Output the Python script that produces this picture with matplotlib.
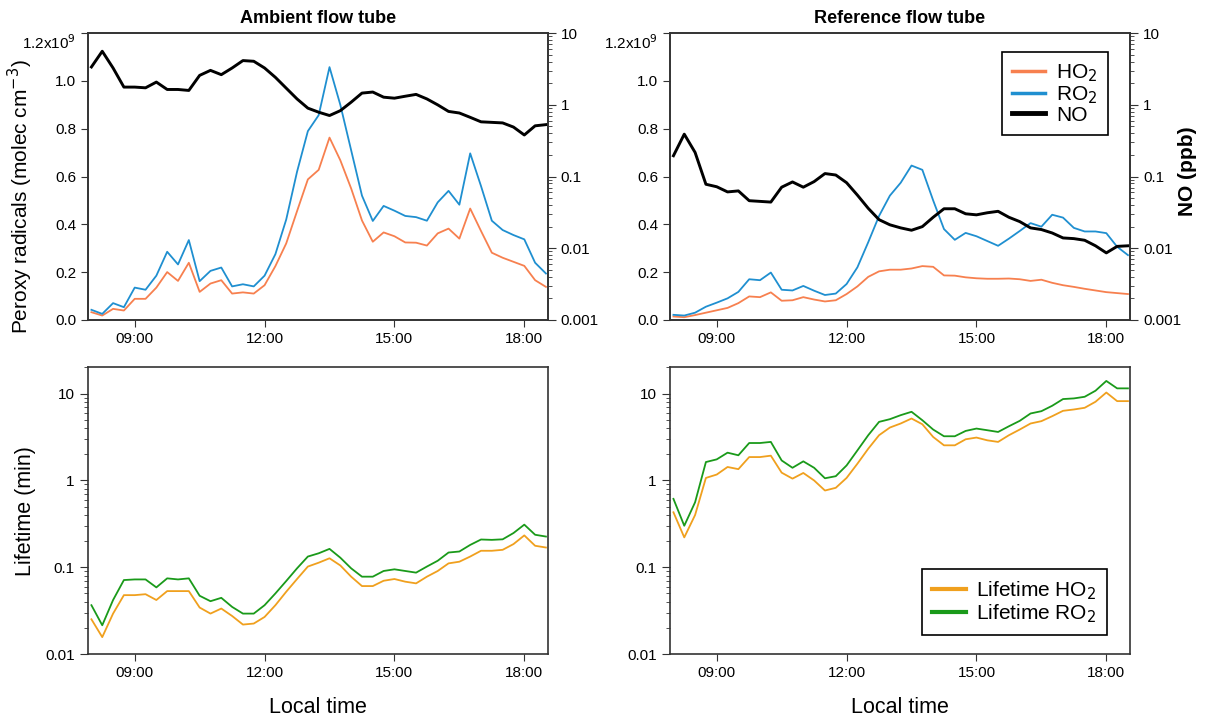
import numpy as np
import matplotlib
matplotlib.use("Agg")
import matplotlib.pyplot as plt
from matplotlib.ticker import FuncFormatter, LogLocator, NullFormatter
from matplotlib.lines import Line2D

plt.rcParams['font.family'] = ['Liberation Sans', 'DejaVu Sans']

# 15-minute averages, local time
times = ["08:00", "08:15", "08:30", "08:45", "09:00", "09:15", "09:30", "09:45",
         "10:00", "10:15", "10:30", "10:45", "11:00", "11:15", "11:30", "11:45",
         "12:00", "12:15", "12:30", "12:45", "13:00", "13:15", "13:30", "13:45",
         "14:00", "14:15", "14:30", "14:45", "15:00", "15:15", "15:30", "15:45",
         "16:00", "16:15", "16:30", "16:45", "17:00", "17:15", "17:30", "17:45",
         "18:00", "18:15", "18:30"]

# peroxy radicals, 1e9 molec cm-3
amb_ho2 = [0.032, 0.018, 0.046, 0.039, 0.088, 0.088, 0.135, 0.200, 0.163, 0.239,
           0.117, 0.152, 0.166, 0.110, 0.115, 0.110, 0.145, 0.225, 0.320, 0.455,
           0.588, 0.628, 0.763, 0.668, 0.550, 0.416, 0.327, 0.366, 0.350, 0.324,
           0.323, 0.311, 0.362, 0.382, 0.340, 0.466, 0.372, 0.281, 0.260, 0.243,
           0.226, 0.166, 0.138]
amb_ro2 = [0.042, 0.025, 0.070, 0.053, 0.135, 0.126, 0.185, 0.285, 0.232, 0.334,
           0.162, 0.205, 0.219, 0.140, 0.149, 0.140, 0.185, 0.275, 0.420, 0.620,
           0.790, 0.857, 1.058, 0.900, 0.710, 0.520, 0.414, 0.477, 0.457, 0.435,
           0.430, 0.415, 0.492, 0.540, 0.482, 0.697, 0.560, 0.415, 0.376, 0.355,
           0.337, 0.239, 0.194]
ref_ho2 = [0.014, 0.011, 0.020, 0.030, 0.040, 0.050, 0.070, 0.098, 0.095, 0.115,
           0.080, 0.082, 0.095, 0.085, 0.077, 0.082, 0.108, 0.140, 0.180, 0.203,
           0.210, 0.210, 0.215, 0.225, 0.222, 0.186, 0.185, 0.178, 0.174, 0.172,
           0.172, 0.173, 0.170, 0.163, 0.168, 0.155, 0.145, 0.138, 0.130, 0.123,
           0.116, 0.112, 0.108]
ref_ro2 = [0.021, 0.018, 0.030, 0.055, 0.072, 0.090, 0.117, 0.170, 0.166, 0.198,
           0.126, 0.123, 0.142, 0.122, 0.104, 0.110, 0.150, 0.220, 0.325, 0.435,
           0.520, 0.574, 0.646, 0.628, 0.500, 0.380, 0.335, 0.364, 0.350, 0.330,
           0.310, 0.340, 0.372, 0.405, 0.390, 0.440, 0.428, 0.385, 0.370, 0.370,
           0.363, 0.306, 0.271]

# NO mixing ratio, ppb
amb_no = [3.38, 5.60, 3.27, 1.77, 1.77, 1.73, 2.08, 1.64, 1.64, 1.59,
          2.58, 3.03, 2.64, 3.27, 4.15, 4.06, 3.27, 2.42, 1.71, 1.21,
          0.90, 0.79, 0.71, 0.83, 1.09, 1.46, 1.51, 1.28, 1.24, 1.32,
          1.40, 1.21, 1.00, 0.81, 0.77, 0.67, 0.58, 0.57, 0.56, 0.49,
          0.38, 0.51, 0.53]
ref_no = [0.195, 0.390, 0.217, 0.078, 0.072, 0.061, 0.063, 0.046, 0.045, 0.044,
          0.071, 0.084, 0.071, 0.085, 0.110, 0.105, 0.082, 0.055, 0.036, 0.0250,
          0.0212, 0.0192, 0.0178, 0.0200, 0.0270, 0.0355, 0.0355, 0.0302, 0.0292, 0.0312,
          0.0327, 0.0270, 0.0235, 0.0192, 0.0182, 0.0163, 0.0139, 0.0136, 0.0129, 0.0108,
          0.0086, 0.0106, 0.0108]

# radical lifetimes, min
amb_tau_ho2 = [0.0252, 0.0157, 0.0293, 0.0478, 0.0478, 0.0490, 0.0420, 0.0532, 0.0532, 0.0532,
               0.0344, 0.0293, 0.0335, 0.0275, 0.0219, 0.0225, 0.0268, 0.0366, 0.0523, 0.0733,
               0.102, 0.113, 0.127, 0.105, 0.078, 0.0608, 0.0608, 0.070, 0.0733, 0.0683,
               0.0653, 0.078, 0.0907, 0.111, 0.116, 0.133, 0.155, 0.155, 0.159, 0.185,
               0.233, 0.177, 0.169]
amb_tau_ro2 = [0.0366, 0.0215, 0.042, 0.0713, 0.0725, 0.0725, 0.0587, 0.0746, 0.0725, 0.0746,
               0.047, 0.0407, 0.0445, 0.035, 0.0293, 0.0293, 0.0366, 0.050, 0.0695, 0.0973,
               0.133, 0.145, 0.163, 0.129, 0.0973, 0.078, 0.078, 0.0907, 0.0948, 0.0907,
               0.0868, 0.102, 0.119, 0.148, 0.152, 0.181, 0.209, 0.207, 0.210, 0.248,
               0.310, 0.237, 0.226]
ref_tau_ho2 = [0.43, 0.221, 0.40, 1.07, 1.17, 1.43, 1.35, 1.86, 1.86, 1.93,
               1.23, 1.05, 1.22, 1.00, 0.766, 0.823, 1.07, 1.56, 2.32, 3.32,
               4.07, 4.53, 5.17, 4.44, 3.17, 2.54, 2.54, 2.98, 3.12, 2.90,
               2.78, 3.32, 3.86, 4.53, 4.82, 5.50, 6.34, 6.57, 6.87, 8.06,
               10.3, 8.2, 8.2]
ref_tau_ro2 = [0.614, 0.301, 0.561, 1.63, 1.75, 2.09, 1.95, 2.70, 2.70, 2.78,
               1.70, 1.40, 1.66, 1.40, 1.06, 1.12, 1.49, 2.22, 3.32, 4.73,
               5.08, 5.65, 6.18, 4.94, 3.86, 3.23, 3.23, 3.72, 3.96, 3.79,
               3.62, 4.21, 4.86, 5.91, 6.28, 7.25, 8.66, 8.81, 9.20, 10.8,
               14.0, 11.5, 11.5]

hours = np.array([int(t[:2]) + int(t[3:]) / 60 for t in times])

c_ho2 = '#f7804f'
c_ro2 = '#1f8fd0'
c_no = 'black'
c_tau_ho2 = '#f0a01e'
c_tau_ro2 = '#1a9a1a'
spine_c = '#333333'

fig = plt.figure(figsize=(12.05, 7.22), dpi=100)
w, h = 0.3815, 0.397
ax_tl = fig.add_axes([0.073, 0.557, w, h])
ax_tr = fig.add_axes([0.556, 0.557, w, h])
ax_bl = fig.add_axes([0.073, 0.094, w, h])
ax_br = fig.add_axes([0.556, 0.094, w, h])


def time_axis(ax):
    ax.set_xlim(7.92, 18.54)
    ax.set_xticks([9, 12, 15, 18])
    ax.xaxis.set_major_formatter(FuncFormatter(lambda v, p: '%02d:00' % int(round(v))))
    ax.tick_params(axis='x', direction='out', length=5, labelsize=11, colors=spine_c,
                   labelcolor='black')
    for s in ax.spines.values():
        s.set_color(spine_c)
        s.set_linewidth(1.2)


def log_fmt(v, p):
    return '%g' % v


def radical_panel(ax, ho2, ro2, no, title, right_label=False):
    ax.plot(hours, np.array(ho2) * 1e9, color=c_ho2, lw=1.3)
    ax.plot(hours, np.array(ro2) * 1e9, color=c_ro2, lw=1.3)
    ax.set_ylim(0, 1.2e9)
    ticks = [0, 0.2e9, 0.4e9, 0.6e9, 0.8e9, 1.0e9, 1.2e9]
    ax.set_yticks(ticks)
    ax.set_yticklabels(['0.0', '0.2', '0.4', '0.6', '0.8', '1.0', r'1.2x10$^{9}$'])
    top = ax.get_yticklabels()[-1]
    top.set_fontsize(10)
    top.set_va('top')
    ax.tick_params(axis='y', direction='out', length=5, labelsize=11, colors=spine_c,
                   labelcolor='black')
    time_axis(ax)
    ax.set_title(title, fontsize=13, fontweight='bold', pad=7)

    ax2 = ax.twinx()
    ax2.plot(hours, no, color=c_no, lw=2.1)
    ax2.set_yscale('log')
    ax2.set_ylim(1e-3, 10)
    ax2.yaxis.set_major_locator(LogLocator(base=10, numticks=10))
    ax2.yaxis.set_minor_locator(LogLocator(base=10, subs=np.arange(2, 10), numticks=10))
    ax2.yaxis.set_major_formatter(FuncFormatter(log_fmt))
    ax2.yaxis.set_minor_formatter(NullFormatter())
    ax2.tick_params(axis='y', which='major', direction='out', length=6, labelsize=11,
                    colors=spine_c, labelcolor='black')
    ax2.tick_params(axis='y', which='minor', direction='out', length=3, colors=spine_c)
    for s in ax2.spines.values():
        s.set_color(spine_c)
        s.set_linewidth(1.2)
    if right_label:
        ax2.set_ylabel('NO (ppb)', fontsize=15, fontweight='bold')
        ax2.yaxis.set_label_coords(1.105, 0.52)
    return ax2


def lifetime_panel(ax, tau_ho2, tau_ro2):
    ax.plot(hours, tau_ho2, color=c_tau_ho2, lw=1.3, label='Lifetime HO$_2$')
    ax.plot(hours, tau_ro2, color=c_tau_ro2, lw=1.3, label='Lifetime RO$_2$')
    ax.set_yscale('log')
    ax.set_ylim(0.01, 20)
    ax.yaxis.set_major_locator(LogLocator(base=10, numticks=10))
    ax.yaxis.set_minor_locator(LogLocator(base=10, subs=np.arange(2, 10), numticks=10))
    ax.yaxis.set_major_formatter(FuncFormatter(log_fmt))
    ax.yaxis.set_minor_formatter(NullFormatter())
    ax.tick_params(axis='y', which='major', direction='out', length=6, labelsize=11,
                   colors=spine_c, labelcolor='black')
    ax.tick_params(axis='y', which='minor', direction='out', length=3, colors=spine_c)
    time_axis(ax)
    ax.set_xlabel('Local time', fontsize=15.5, labelpad=12)


radical_panel(ax_tl, amb_ho2, amb_ro2, amb_no, 'Ambient flow tube')
ax2_tr = radical_panel(ax_tr, ref_ho2, ref_ro2, ref_no, 'Reference flow tube', right_label=True)
ax_tl.set_ylabel('Peroxy radicals (molec cm$^{-3}$)', fontsize=15)
ax_tl.yaxis.set_label_coords(-0.115, 0.43)

lifetime_panel(ax_bl, amb_tau_ho2, amb_tau_ro2)
lifetime_panel(ax_br, ref_tau_ho2, ref_tau_ro2)
ax_bl.set_ylabel('Lifetime (min)', fontsize=15.5)
ax_bl.yaxis.set_label_coords(-0.113, 0.5)

handles = [Line2D([], [], color=c_ho2, lw=2.5), Line2D([], [], color=c_ro2, lw=2.5),
           Line2D([], [], color=c_no, lw=3.5)]
leg = ax2_tr.legend(handles, ['HO$_2$', 'RO$_2$', 'NO'], loc='upper right',
                    bbox_to_anchor=(0.952, 0.934), fontsize=15, frameon=True,
                    fancybox=False, edgecolor='black', framealpha=1,
                    handlelength=1.6, handletextpad=0.5, labelspacing=0.0,
                    borderpad=0.5, borderaxespad=0)
leg.get_frame().set_linewidth(1.2)

leg2 = ax_br.legend(loc='lower right', bbox_to_anchor=(0.95, 0.066), fontsize=15,
                    frameon=True, fancybox=False, edgecolor='black', framealpha=1,
                    handlelength=1.6, handletextpad=0.5, labelspacing=0.0,
                    borderpad=0.5, borderaxespad=0)
leg2.get_frame().set_linewidth(1.2)
for line in leg2.get_lines():
    line.set_linewidth(3)

fig.savefig('out.png', dpi=100)
